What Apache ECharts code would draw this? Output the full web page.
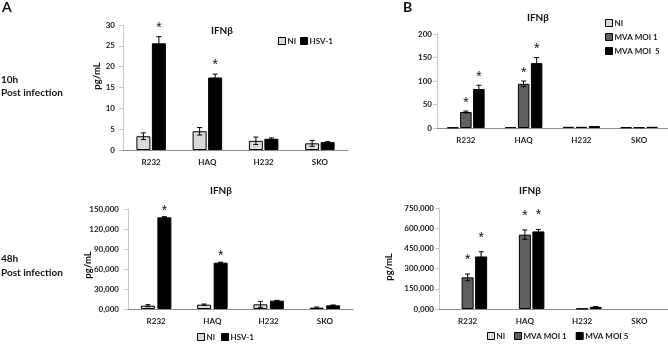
<!DOCTYPE html>
<html>
<head>
<meta charset="utf-8">
<script src="https://cdn.jsdelivr.net/npm/echarts@6/dist/echarts.min.js"></script>
<style>
html,body{margin:0;padding:0;background:#fff;}
#chart{width:668px;height:344px;}
</style>
</head>
<body>
<div id="chart"></div>
<script>
var cells = ['R232', 'HAQ', 'H232', 'SKO'];

// A, 10h post infection (pg/mL)
var ni10 = [3.3, 4.5, 2.2, 1.6];
var ni10Err = [0.8, 0.9, 0.9, 0.7];
var hsv10 = [25.6, 17.4, 2.7, 1.9];
var hsv10Err = [1.6, 0.8, 0.2, 0.1];
var hsv10Star = [1, 1, 0, 0];

// A, 48h post infection
var ni48 = [5000, 6500, 7000, 2000];
var ni48Err = [1500, 1000, 4500, 1000];
var hsv48 = [137500, 69500, 12500, 5500];
var hsv48Err = [1000, 700, 500, 500];
var hsv48Star = [1, 1, 0, 0];

// B, top
var niB1 = [1, 2, 2.5, 1.5];
var moi1B1 = [34, 94, 2.5, 1.5];
var moi1B1Err = [2, 6, 0, 0];
var moi1B1Star = [1, 1, 0, 0];
var moi5B1 = [83, 138, 4, 2.5];
var moi5B1Err = [8, 12, 0, 0];
var moi5B1Star = [1, 1, 0, 0];

// B, bottom
var niB2 = [0, 0, 0, 0];
var moi1B2 = [235000, 552000, 3000, 0];
var moi1B2Err = [25000, 35000, 0, 0];
var moi1B2Star = [1, 1, 0, 0];
var moi5B2 = [390000, 576000, 16000, 0];
var moi5B2Err = [35000, 15000, 2000, 0];
var moi5B2Star = [1, 1, 0, 0];

var FONT = 'Lato, "Liberation Sans", sans-serif';

var chart = echarts.init(document.getElementById('chart'), null, {renderer: 'canvas'});

var grids = [
    {left: 123, top: 25, width: 225, height: 125},
    {left: 128, top: 209, width: 225, height: 100},
    {left: 437, top: 34, width: 231, height: 94},
    {left: 439, top: 208, width: 229, height: 101}
];
var yRange = [[30, 5, 8], [150000, 30000, 9], [200, 50, 5], [750000, 150000, 5]];

var xAxes = [], yAxes = [];
grids.forEach(function(g, i){
    xAxes.push({
        type: 'category', gridIndex: i, data: cells,
        axisTick: {show: false},
        axisLine: {lineStyle: {color: '#8c8c8c', width: 1}},
        axisLabel: {fontSize: 8, fontWeight: 'bold', color: '#222', fontFamily: FONT, margin: 8}
    });
    var big = yRange[i][0] > 1000;
    yAxes.push({
        type: 'value', gridIndex: i, min: 0, max: yRange[i][0], interval: yRange[i][1],
        splitLine: {show: false},
        axisLine: {show: true, lineStyle: {color: '#c8c8c8'}},
        axisTick: {show: true, length: 4, lineStyle: {color: '#c8c8c8'}},
        axisLabel: {
            fontSize: 8, fontWeight: 'bold', color: '#222', fontFamily: FONT, margin: yRange[i][2],
            formatter: function(v){
                if (!big) return v;
                return v === 0 ? '0,000' : v.toLocaleString('en-US');
            }
        }
    });
});

var series = [];

// one panel: bars + error bars (custom) + asterisks
function panel(gi, defs, barWidth, gapPx, starOff){
    var n = defs.length;
    defs.forEach(function(d, k){
        series.push({
            type: 'bar', name: d.name, xAxisIndex: gi, yAxisIndex: gi,
            data: d.data.map(function(v){
                return {value: v, itemStyle: {borderWidth: v > 0 ? 1 : 0}};
            }),
            barWidth: barWidth, barGap: (gapPx / barWidth * 100) + '%',
            itemStyle: {color: d.color, borderColor: '#000', borderWidth: 1},
            emphasis: {disabled: true}
        });
        var off = (k - (n - 1) / 2) * (barWidth + gapPx);
        var items = d.data.map(function(v, j){
            return [j, v, d.err ? d.err[j] : 0, d.star ? d.star[j] : 0];
        });
        series.push({
            type: 'custom', xAxisIndex: gi, yAxisIndex: gi, z: 5, silent: true,
            data: items, encode: {x: 0, y: 1},
            renderItem: function(params, api){
                var j = api.value(0), v = api.value(1), e = api.value(2), s = api.value(3);
                var x = api.coord([j, v])[0] + off;
                var yTop = api.coord([j, v + e])[1];
                var yBot = api.coord([j, Math.max(0, v - e)])[1];
                var ch = [];
                if (e > 0) {
                    var st = {stroke: '#000', lineWidth: 1};
                    ch.push({type: 'line', shape: {x1: x, y1: yTop, x2: x, y2: yBot}, style: st});
                    ch.push({type: 'line', shape: {x1: x - 2.5, y1: yTop, x2: x + 2.5, y2: yTop}, style: st});
                    ch.push({type: 'line', shape: {x1: x - 2.5, y1: yBot, x2: x + 2.5, y2: yBot}, style: st});
                }
                if (s) {
                    ch.push({type: 'text', x: x, y: yTop - starOff, style: {
                        text: '*', fontSize: 14, fontFamily: '"Liberation Sans", sans-serif',
                        fill: '#111', align: 'center', verticalAlign: 'middle'
                    }});
                }
                return {type: 'group', children: ch};
            }
        });
    });
}

panel(0, [
    {name: 'NI', data: ni10, err: ni10Err, color: '#d9d9d9'},
    {name: 'HSV-1', data: hsv10, err: hsv10Err, star: hsv10Star, color: '#000'}
], 14, 1.5, 9);
panel(1, [
    {name: 'NI', data: ni48, err: ni48Err, color: '#d9d9d9'},
    {name: 'HSV-1', data: hsv48, err: hsv48Err, star: hsv48Star, color: '#000'}
], 14, 2.5, 6);
panel(2, [
    {name: 'NI', data: niB1, color: '#d9d9d9'},
    {name: 'MVA MOI 1', data: moi1B1, err: moi1B1Err, star: moi1B1Star, color: '#606060'},
    {name: 'MVA MOI  5', data: moi5B1, err: moi5B1Err, star: moi5B1Star, color: '#000'}
], 11.5, 1.5, 8);
panel(3, [
    {name: 'NI', data: niB2, color: '#d9d9d9'},
    {name: 'MVA MOI 1', data: moi1B2, err: moi1B2Err, star: moi1B2Star, color: '#606060'},
    {name: 'MVA MOI 5', data: moi5B2, err: moi5B2Err, star: moi5B2Star, color: '#000'}
], 12, 1.5, 14);

var legendBase = {
    icon: 'rect', itemWidth: 7, itemHeight: 7, selectedMode: false,
    itemStyle: {borderColor: '#000', borderWidth: 1},
    textStyle: {fontSize: 8, fontWeight: 'bold', color: '#222', fontFamily: FONT, padding: [0, 0, 0, -3]},
    padding: 0
};
function legend(o){ return Object.assign({}, legendBase, o); }

function txt(x, y, s, size){
    return {type: 'text', x: x, y: y, style: {
        text: s, font: 'bold ' + size + 'px ' + FONT, fill: '#111',
        align: 'left', verticalAlign: 'middle'
    }};
}
function ctxt(x, y, s, size){
    var t = txt(x, y, s, size);
    t.style.align = 'center';
    return t;
}
function vtxt(x, y, s, size){
    var t = ctxt(x, y, s, size);
    t.rotation = Math.PI / 2;
    return t;
}

chart.setOption({
    animation: false,
    backgroundColor: '#fff',
    grid: grids,
    xAxis: xAxes,
    yAxis: yAxes,
    legend: [
        legend({left: 278, top: 37, itemGap: 4, data: ['NI', 'HSV-1']}),
        legend({left: 197, top: 333, itemGap: 6, data: ['NI', 'HSV-1']}),
        legend({left: 605, top: 19, orient: 'vertical', itemGap: 6, data: ['NI', 'MVA MOI 1', 'MVA MOI  5']}),
        legend({left: 487, top: 332, itemGap: 9, data: ['NI', 'MVA MOI 1', 'MVA MOI 5']})
    ],
    graphic: [
        txt(2, 7, 'A', 14),
        txt(403, 7, 'B', 14),
        txt(1, 80, '10h', 10),
        txt(1, 93, 'Post infection', 10),
        txt(1, 259, '48h', 10),
        txt(1, 273, 'Post infection', 10),
        ctxt(222, 31, 'IFNβ', 10),
        ctxt(221, 191, 'IFNβ', 10),
        ctxt(538, 18, 'IFNβ', 10),
        ctxt(530, 191, 'IFNβ', 10),
        vtxt(97, 76, 'pg/mL', 9.5),
        vtxt(88, 265, 'pg/mL', 9.5),
        vtxt(389, 267, 'pg/mL', 9.5)
    ],
    series: series
});
</script>
</body>
</html>
